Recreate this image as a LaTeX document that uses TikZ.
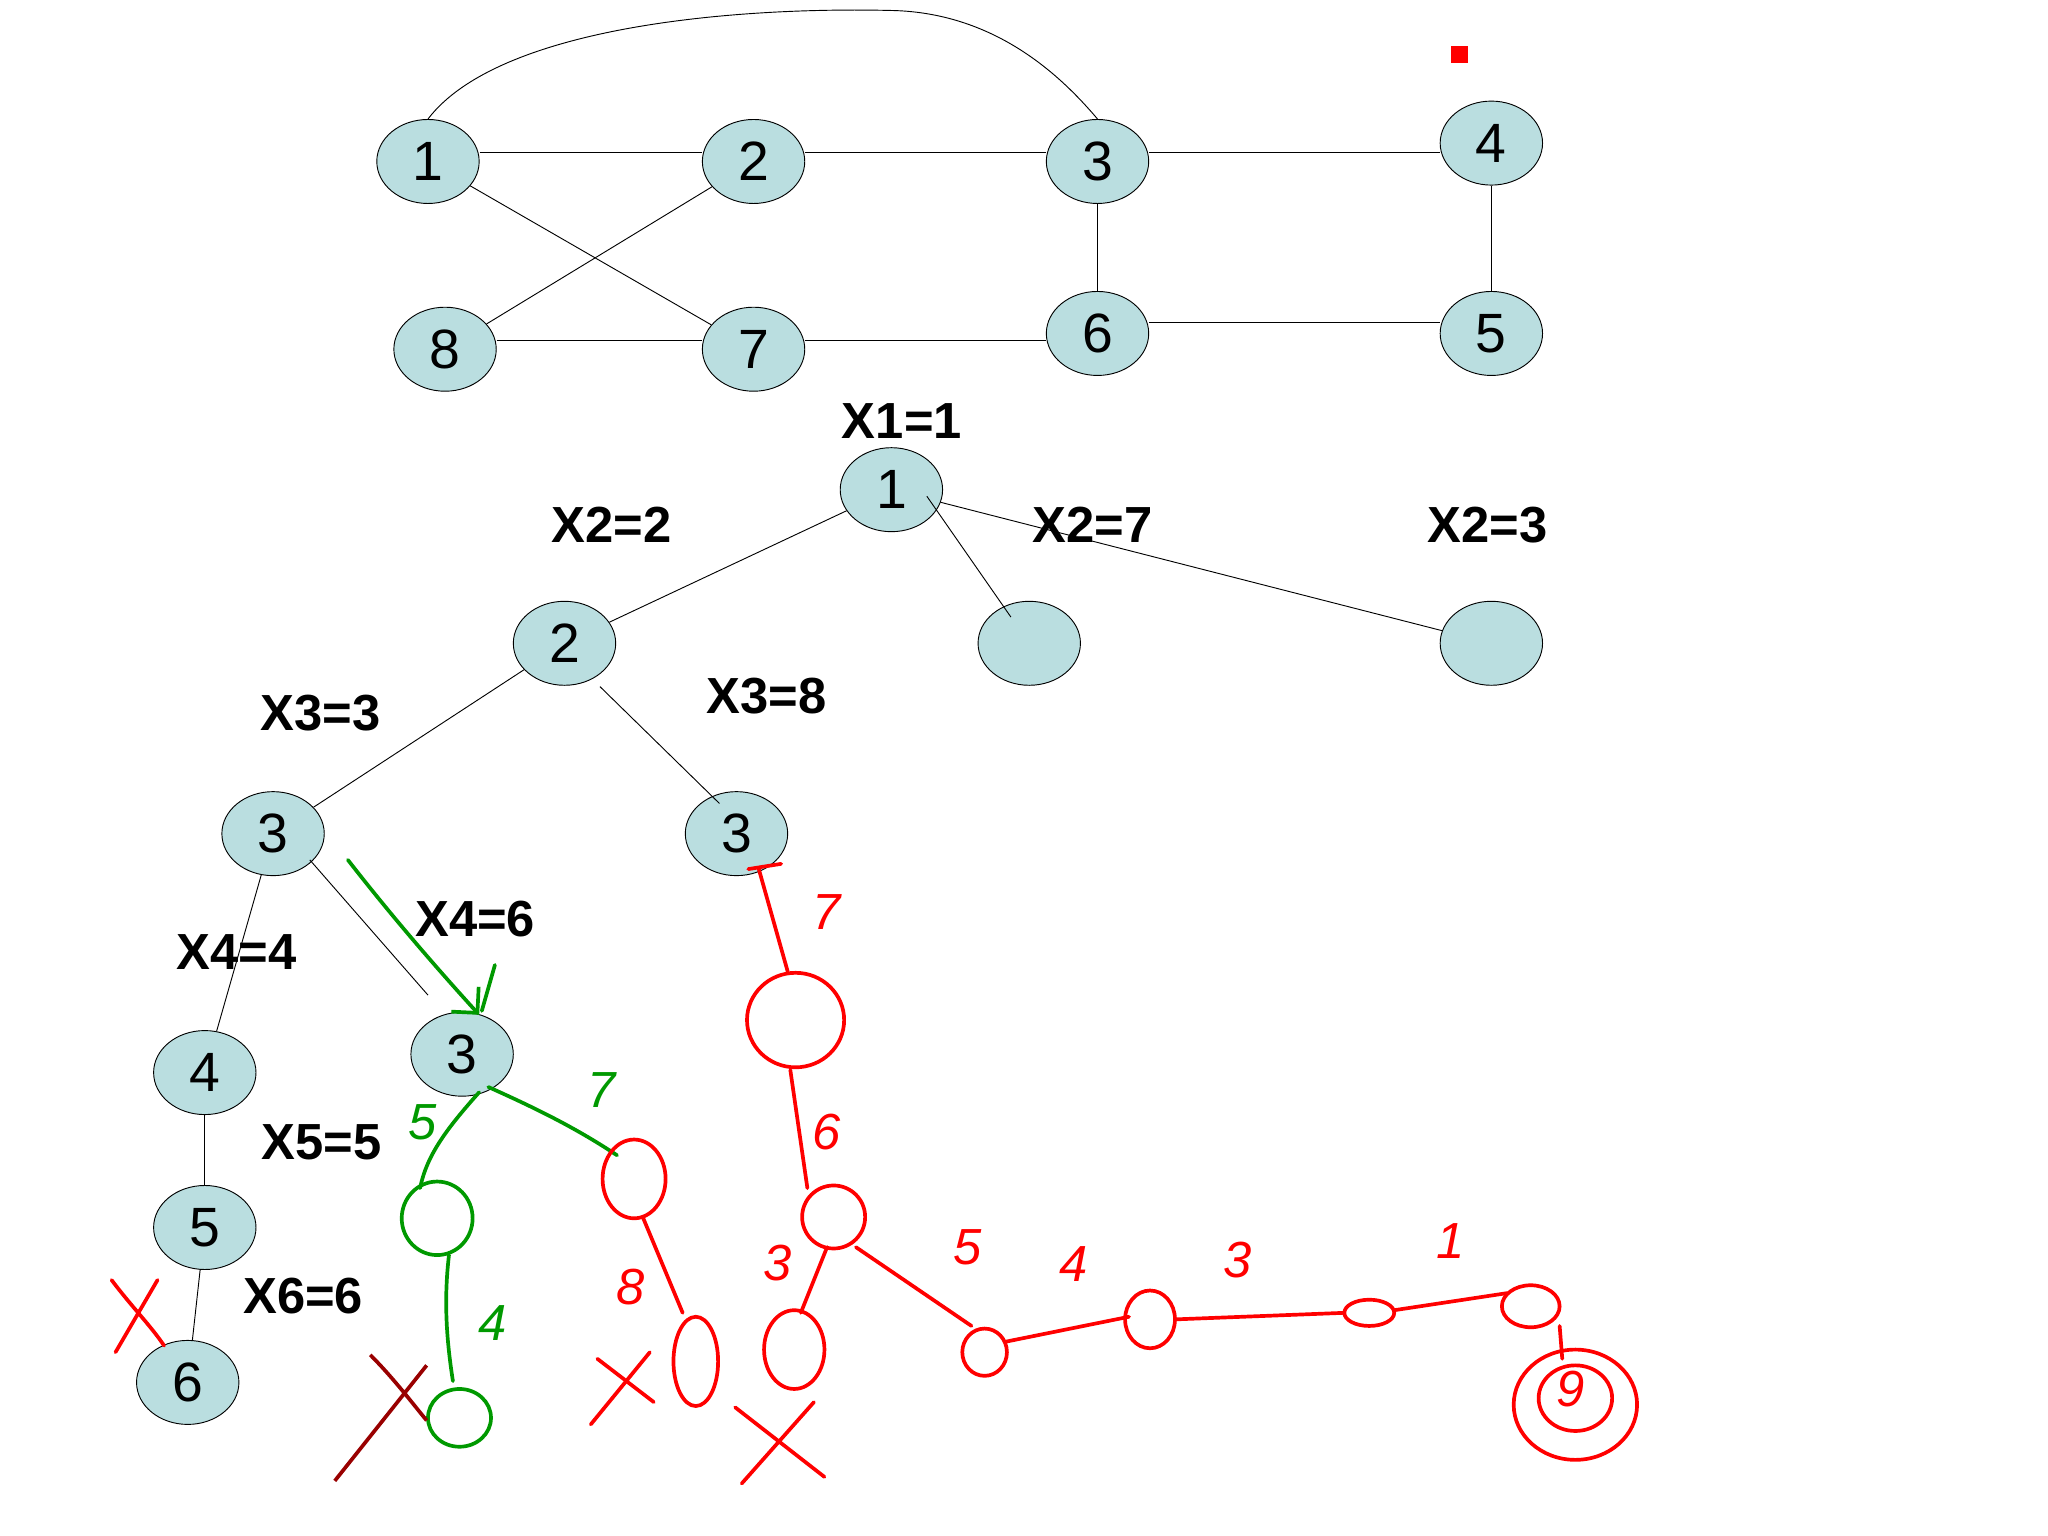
\documentclass[tikz,border=0pt]{standalone}
\usepackage{fontspec}
\setmainfont{Liberation Sans}
\usetikzlibrary{shapes.geometric,arrows.meta}
\begin{document}
\begin{tikzpicture}[x=0.02cm,y=-0.02cm,
  vx/.style={ellipse,draw,fill=cyan!10!teal!25!white,fill=vxcol,minimum width=1.56cm,minimum height=1.28cm,inner sep=0pt,font=\fontsize{24}{26}\selectfont},
  lab/.style={font=\bfseries\fontsize{22}{24}\selectfont},
  gr/.style={draw=green!60!black,line width=1.6pt,line cap=round},
  rd/.style={draw=red,line width=1.6pt,line cap=round},
  hw/.style={font=\itshape\fontsize{22}{24}\selectfont}]
\definecolor{vxcol}{RGB}{186,222,224}
\useasboundingbox (0,0) rectangle (1560,1170);
% top graph
\node[vx] (g1) at (326,123) {1};
\node[vx] (g2) at (574,123) {2};
\node[vx] (g3) at (836,123) {3};
\node[vx] (g4) at (1136,109) {4};
\node[vx] (g8) at (339,266) {8};
\node[vx] (g7) at (574,266) {7};
\node[vx] (g6) at (836,254) {6};
\node[vx] (g5) at (1136,254) {5};
\draw (g1.east|-0,116) -- (g2.west|-0,116);
\draw (g2.east|-0,116) -- (g3.west|-0,116);
\draw (g3.east|-0,116) -- (g4.west|-0,116);
\draw (g8.east|-0,259) -- (g7.west|-0,259);
\draw (g7.east|-0,259) -- (g6.west|-0,259);
\draw (g6.east|-0,246) -- (g5.west|-0,246);
\draw (g1) -- (g7);
\draw (g2) -- (g8);
\draw (g3) -- (g6);
\draw (g4) -- (g5);
\draw (g1.north) .. controls (380,20) and (560,5) .. (680,8) .. controls (760,10) and (810,60) .. (g3.north);
\fill[red] (1105,35) rectangle (1118,48);
% tree
\node[vx] (t1) at (679,373) {1};
\node[lab] at (687,321) {X1=1};
\node[vx] (t2) at (430,490) {2};
\node[vx] (t7) at (784,490) {};
\node[vx] (t3x) at (1136,490) {};
\node[lab] at (466,400) {X2=2};
\node[lab] at (832,400) {X2=7};
\node[lab] at (1133,400) {X2=3};
\draw (t1) -- (t2);
\draw (706,378) -- (770,470);
\draw (t1) -- (t3x);
\node[vx] (t3a) at (208,635) {3};
\node[vx] (t3b) at (561,635) {3};
\node[lab] at (244,543) {X3=3};
\node[lab] at (584,530) {X3=8};
\draw (t2) -- (t3a);
\draw (457,523) -- (548,612);
\node[vx] (t4) at (156,817) {4};
\node[vx] (t36) at (352,803) {3};
\node[lab] at (180,725) {X4=4};
\node[lab] at (362,700) {X4=6};
\draw (t3a) -- (t4);
\draw (236,655) -- (326,758);
\node[vx] (t5) at (156,935) {5};
\node[vx] (t6) at (143,1053) {6};
\node[lab] at (245,870) {X5=5};
\node[lab] at (231,987) {X6=6};
\draw (t4) -- (t5);
\draw (t5) -- (t6);
% handwriting red X near 6
\draw[rd] (88,1030) -- (120,975) (85,975) .. controls (100,995) and (115,1010) .. (125,1025);
% green
\draw[gr,-{Straight Barb[length=8pt]}] (265,655) .. controls (300,700) and (335,740) .. (365,773);
\draw[gr] (377,735) -- (367,770);
\draw[gr] (372,828) .. controls (410,845) and (440,860) .. (470,880);
\node[hw,text=green!60!black] at (458,830) {7};
\node[hw,text=green!60!black] at (322,855) {5};
\draw[gr] (365,832) .. controls (340,860) and (325,880) .. (320,905);
\draw[gr] (333,928) ellipse (27 and 28);
\draw[gr] (342,956) .. controls (338,990) and (340,1020) .. (345,1052);
\node[hw,text=green!60!black] at (375,1008) {4};
\draw[gr] (350,1080) ellipse (24 and 22);
\draw[draw=red!60!black,line width=1.6pt] (255,1128) -- (325,1040) (282,1032) .. controls (300,1050) and (315,1070) .. (325,1082);
% red
\draw[rd] (483,898) ellipse (24 and 30);
\draw[rd] (490,928) -- (520,1000);
\node[hw,text=red] at (480,980) {8};
\draw[rd] (530,1037) ellipse (17 and 34);
\draw[rd] (450,1085) -- (495,1030) (455,1035) -- (498,1068);
\draw[rd] (565,1130) -- (620,1068) (560,1072) -- (628,1125);
\draw[rd] (578,662) -- (600,740);
\draw[rd] (570,662) -- (595,658);
\node[hw,text=red] at (630,695) {7};
\draw[rd] (606,777) ellipse (37 and 36);
\draw[rd] (602,815) -- (615,905);
\node[hw,text=red] at (630,862) {6};
\draw[rd] (635,927) ellipse (24 and 24);
\draw[rd] (630,950) -- (610,1000);
\node[hw,text=red] at (592,962) {3};
\draw[rd] (605,1028) ellipse (23 and 30);
\draw[rd] (652,950) -- (740,1010);
\node[hw,text=red] at (737,950) {5};
\draw[rd] (750,1030) ellipse (17 and 18);
\draw[rd] (766,1022) -- (860,1003);
\node[hw,text=red] at (818,963) {4};
\draw[rd] (876,1005) ellipse (19 and 22);
\draw[rd] (895,1005) -- (1024,1000);
\node[hw,text=red] at (943,960) {3};
\draw[rd] (1043,1000) ellipse (19 and 10);
\draw[rd] (1062,998) -- (1148,985);
\node[hw,text=red] at (1105,945) {1};
\draw[rd] (1166,995) ellipse (22 and 16);
\draw[rd] (1188,1010) -- (1190,1035);
\draw[rd] (1200,1070) ellipse (47 and 42);
\draw[rd] (1200,1065) ellipse (28 and 25);
\node[hw,text=red] at (1196,1058) {9};
\end{tikzpicture}
\end{document}
